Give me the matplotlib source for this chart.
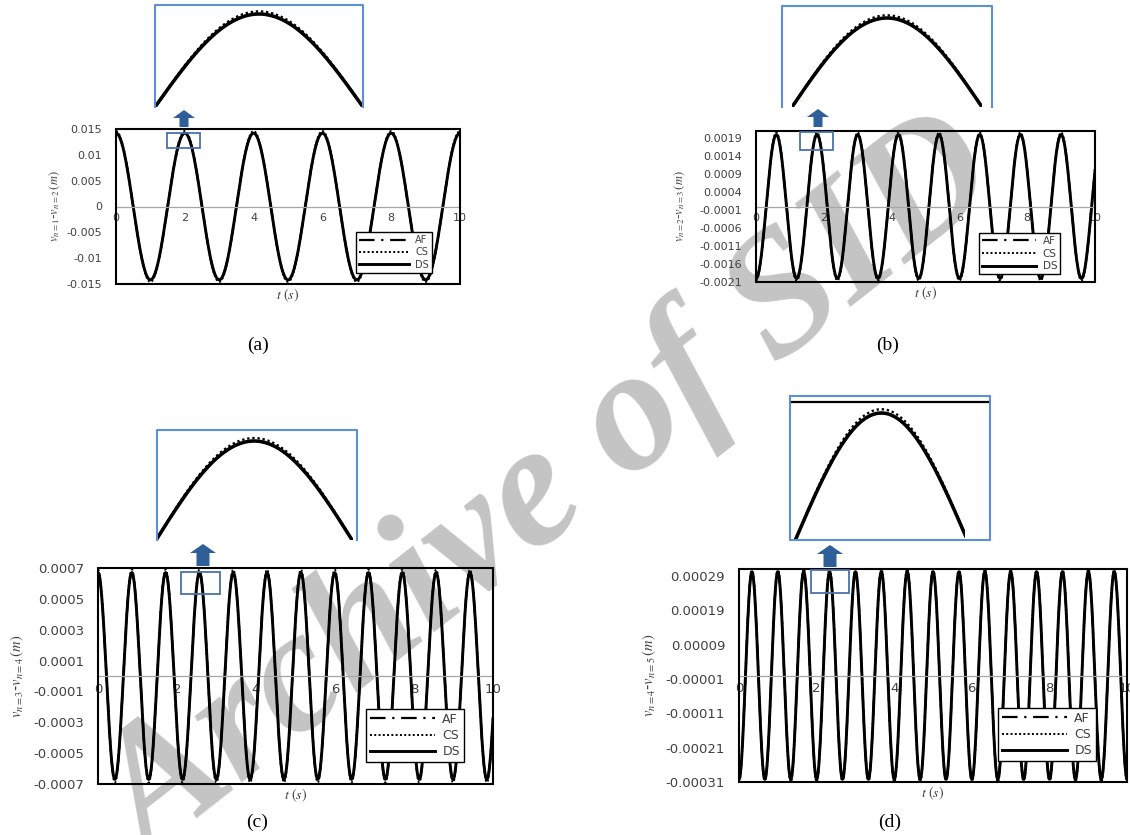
import numpy as np
import matplotlib.pyplot as plt
from matplotlib.patches import Rectangle, FancyArrow
from matplotlib.lines import Line2D

plt.rcParams['font.family'] = 'DejaVu Sans'
plt.rcParams['mathtext.fontset'] = 'stix'

W, H = 1130, 835

# ---------- data ----------
t = np.linspace(0, 10, 4001)
series = ['AF', 'CS', 'DS']
amp_af = [0.0142, 0.00200, 0.00067, 0.000302]
amp_cs = [0.0146, 0.00206, 0.00069, 0.000311]
amp_ds = [0.0142, 0.00200, 0.00067, 0.000302]
period = [2.0, 1.2, 0.856, 0.667]
start = [1, -1, 1, -1]          # +1: starts on a crest, -1: starts in a trough
zoom_peak = [2.0, 1.8, 2.57, 2.33]

xticks = [0, 2, 4, 6, 8, 10]
yticks = [
    [-0.015, -0.01, -0.005, 0, 0.005, 0.01, 0.015],
    [-0.0021, -0.0016, -0.0011, -0.0006, -0.0001, 0.0004, 0.0009, 0.0014, 0.0019],
    [-0.0007, -0.0005, -0.0003, -0.0001, 0.0001, 0.0003, 0.0005, 0.0007],
    [-0.00031, -0.00021, -0.00011, -0.00001, 0.00009, 0.00019, 0.00029],
]
ytick_labels = [
    ['-0.015', '-0.01', '-0.005', '0', '0.005', '0.01', '0.015'],
    ['-0.0021', '-0.0016', '-0.0011', '-0.0006', '-0.0001', '0.0004', '0.0009', '0.0014', '0.0019'],
    ['-0.0007', '-0.0005', '-0.0003', '-0.0001', '0.0001', '0.0003', '0.0005', '0.0007'],
    ['-0.00031', '-0.00021', '-0.00011', '-0.00001', '0.00009', '0.00019', '0.00029'],
]
ylims = [(-0.015, 0.015), (-0.0021, 0.0021), (-0.0007, 0.0007), (-0.00031, 0.00031)]
ylabels = [r'$v_{n=1}$-$v_{n=2}\,(m)$', r'$v_{n=2}$-$v_{n=3}\,(m)$',
           r'$v_{n=3}$-$v_{n=4}\,(m)$', r'$v_{n=4}$-$v_{n=5}\,(m)$']
panel_tags = ['(a)', '(b)', '(c)', '(d)']

# ---------- layout (pixels) ----------
axes_px = [(116, 129, 460, 284), (756, 131, 1095, 282),
           (98, 568, 493, 784), (739, 569, 1127, 782)]
legend_px = [(356, 232), (979, 233), (366, 709), (998, 708)]
legend_fs = [7, 7.5, 9, 9]
tick_fs = [8, 8, 9.5, 9.5]
ylabel_fs = [9, 9, 10.5, 10.5]
ylabel_x = [55, 680, 17, 649]
tag_xy = [(258, 345), (888, 345), (257, 822), (890, 822)]
box_px = [(155, 5, 363, 107), (782, 6, 992, 107), (157, 430, 357, 540), (790, 396, 990, 540)]
curve_x = [(155, 363), (792, 982), (157, 353), (793, 965)]
peak_y = [14, 18, 441, 413]
rect_px = [(167, 133, 200, 148), (800, 132, 833, 150), (181, 572, 220, 594), (811, 570, 849, 593)]
arrow_px = [(184, 110, 127, 9, 22, 8), (818, 109, 127, 9, 22, 8),
            (203, 544, 566, 13, 26, 9), (830, 545, 567, 13, 26, 9)]

blue = '#5b8fd6'
dark_blue = '#2f5f98'

styles = {
    'AF': dict(ls=(0, (7, 3, 1, 3)), lw=1.6),
    'CS': dict(ls=(0, (1, 1.2)), lw=1.4),
    'DS': dict(ls='-', lw=2.1),
}


def px(x0, y0, x1, y1):
    return [x0 / W, 1 - y1 / H, (x1 - x0) / W, (y1 - y0) / H]


fig = plt.figure(figsize=(W / 100, H / 100), dpi=100)

# watermark behind the charts
fig.text(552 / W, 1 - 492 / H, 'Archive of SID', fontsize=126, family='Liberation Serif',
         weight='bold', style='italic', color='#c4c4c4', rotation=38,
         ha='center', va='center', rotation_mode='anchor', zorder=-1)

for i in range(4):
    amps = {'AF': amp_af[i], 'CS': amp_cs[i], 'DS': amp_ds[i]}
    vals = {k: start[i] * amps[k] * np.cos(2 * np.pi * t / period[i]) for k in series}

    # ---------- main chart ----------
    ax = fig.add_axes(px(*axes_px[i]))
    ax.set_facecolor('none')
    for k in series:
        ax.plot(t, vals[k], color='black', label=k, **styles[k])
    ax.set_xlim(0, 10)
    ax.set_ylim(*ylims[i])
    ax.set_xticks(xticks)
    ax.set_xticklabels([str(v) for v in xticks])
    ax.set_yticks(yticks[i])
    ax.set_yticklabels(ytick_labels[i])
    for s in ['top', 'left', 'right']:
        ax.spines[s].set_visible(False)
    ax.spines['bottom'].set_position(('data', 0))
    ax.spines['bottom'].set_color('#a6a6a6')
    ax.spines['bottom'].set_linewidth(0.9)
    ax.add_patch(Rectangle((0, 0), 1, 1, transform=ax.transAxes, fill=False,
                           ec='black', lw=1.5, clip_on=False, zorder=6))
    ax.tick_params(length=0, labelsize=tick_fs[i], labelcolor='#404040')
    ax.tick_params(axis='y', pad=10)
    ax.tick_params(axis='x', pad=5)

    lx, ly = legend_px[i]
    leg = ax.legend(loc='upper left', bbox_to_anchor=(lx / W, 1 - ly / H),
                    bbox_transform=fig.transFigure, fancybox=False, framealpha=1,
                    edgecolor='black', fontsize=legend_fs[i], handlelength=5.2,
                    borderpad=0.3, labelspacing=0.25, handletextpad=0.6, borderaxespad=0)
    leg.get_frame().set_linewidth(1.0)
    for txt in leg.get_texts():
        txt.set_color('#404040')

    x0, y0, x1, y1 = axes_px[i]
    fig.text(ylabel_x[i] / W, 1 - (y0 + y1) / 2 / H, ylabels[i], rotation=90,
             ha='center', va='center', fontsize=ylabel_fs[i], color='#404040')
    fig.text((x0 + x1) / 2 / W, 1 - (y1 + 3) / H, r'$t\ (s)$', ha='center', va='top',
             fontsize=10, color='#404040')
    fig.text(tag_xy[i][0] / W, 1 - tag_xy[i][1] / H, panel_tags[i], ha='center', va='center',
             fontsize=14, family='Liberation Serif')

    # ---------- zoomed peak ----------
    bx0, by0, bx1, by1 = box_px[i]
    cx0, cx1 = curve_x[i]
    iax = fig.add_axes(px(cx0, by0, cx1, by1))
    iax.set_facecolor('none')
    iax.axis('off')
    pk = zoom_peak[i]
    q = period[i] / 4
    for k in series:
        st = dict(styles[k])
        st['lw'] = st['lw'] * 1.2
        iax.plot(t, vals[k], color='black', **st)
    iax.set_xlim(pk - q, pk + q)
    top = amp_ds[i] * (1 + (peak_y[i] - by0) / (by1 - peak_y[i]))
    iax.set_ylim(0, top)

    if i == 3:
        fig.add_artist(Line2D([bx0 / W, bx1 / W, bx1 / W, bx0 / W, bx0 / W],
                              [1 - by0 / H, 1 - by0 / H, 1 - by1 / H, 1 - by1 / H, 1 - by0 / H],
                              color=blue, lw=1.5))
        fig.add_artist(Line2D([(bx0 + 2) / W, (bx1 - 2) / W], [1 - 402 / H, 1 - 402 / H],
                              color='black', lw=1.6))
    else:
        fig.add_artist(Line2D([bx0 / W, bx0 / W, bx1 / W, bx1 / W],
                              [1 - by1 / H, 1 - by0 / H, 1 - by0 / H, 1 - by1 / H],
                              color=blue, lw=1.5))

    rx0, ry0, rx1, ry1 = rect_px[i]
    fig.add_artist(Rectangle((rx0 / W, 1 - ry1 / H), (rx1 - rx0) / W, (ry1 - ry0) / H,
                             transform=fig.transFigure, fill=False, ec='#4a72a8', lw=1.3,
                             zorder=10))
    axx, ay_top, ay_bot, shaft, head, hlen = arrow_px[i]
    fig.add_artist(FancyArrow(axx / W, 1 - ay_bot / H, 0, (ay_bot - ay_top) / H,
                              width=shaft / W, head_width=head / W, head_length=hlen / H,
                              length_includes_head=True, transform=fig.transFigure,
                              color=dark_blue, lw=0, zorder=10))

fig.savefig('out.png', dpi=100)
